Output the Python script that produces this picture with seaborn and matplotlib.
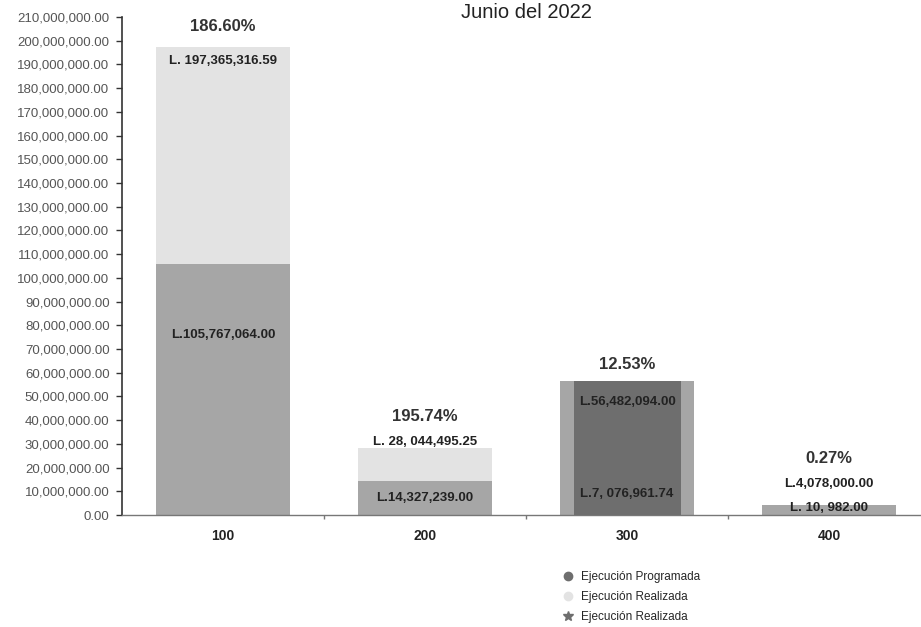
import matplotlib
matplotlib.use("Agg")
import matplotlib.pyplot as plt
import seaborn as sns
import numpy as np
import pandas as pd
from matplotlib.lines import Line2D
from matplotlib.ticker import FuncFormatter, MultipleLocator

# ---- data ----
categories = ["100", "200", "300", "400"]
programada = [105767064.00, 14327239.00, 56482094.00, 4078000.00]
realizada = [197365316.59, 28044495.25, 7076961.74, 10982.00]
realizada_2 = [0.0, 0.0, 56482094.00, 0.0]
porcentajes = ["186.60%", "195.74%", "12.53%", "0.27%"]
etiq_realizada = ["L. 197,365,316.59", "L. 28, 044,495.25", "L.7, 076,961.74", "L. 10, 982.00"]
etiq_programada = ["L.105,767,064.00", "L.14,327,239.00", "L.56,482,094.00", "L.4,078,000.00"]
titulo = "Junio del 2022"
leyenda = ["Ejecución Programada", "Ejecución Realizada", "Ejecución Realizada"]

sns.set_theme(style="white")
plt.rcParams["font.family"] = ["Liberation Sans", "DejaVu Sans"]

c_light = "#e3e3e3"
c_mid = "#a6a6a6"
c_dark = "#6e6e6e"

fig = plt.figure(figsize=(9.21, 6.27), dpi=100)
ax = fig.add_axes([122 / 921, 1 - 515 / 627, 1 - 122 / 921, (515 - 17) / 627])

df = pd.DataFrame({"cat": categories, "prog": programada, "real": realizada, "real2": realizada_2})
sns.barplot(data=df, x="cat", y="real", order=categories, color=c_light, width=0.665,
            errorbar=None, saturation=1, ax=ax, zorder=1, linewidth=0)
sns.barplot(data=df, x="cat", y="prog", order=categories, color=c_mid, width=0.665,
            errorbar=None, saturation=1, ax=ax, zorder=2, linewidth=0)
sns.barplot(data=df, x="cat", y="real2", order=categories, color=c_dark, width=0.53,
            errorbar=None, saturation=1, ax=ax, zorder=3, linewidth=0)

ax.set_xlim(-0.5, 3.455)
ax.set_ylim(0, 210_000_000)
ax.yaxis.set_major_locator(MultipleLocator(10_000_000))
ax.yaxis.set_major_formatter(FuncFormatter(lambda v, p: f"{v:,.2f}"))
ax.set_xlabel("")
ax.set_ylabel("")

for s in ["top", "right"]:
    ax.spines[s].set_visible(False)
ax.spines["left"].set_color("#333333")
ax.spines["left"].set_linewidth(1.2)
ax.spines["bottom"].set_color("#777777")
ax.spines["bottom"].set_linestyle((0, (1, 1)))
ax.spines["bottom"].set_linewidth(1.0)

ax.tick_params(axis="y", left=True, length=4, width=1, color="#333333",
               labelsize=9.5, labelcolor="#555555", pad=5)
ax.tick_params(axis="x", bottom=False, labelsize=10, pad=4, labelcolor="#222222")
for t in ax.get_xticklabels():
    t.set_fontweight("bold")
ax.set_xticks([0.5, 1.5, 2.5], minor=True)
ax.tick_params(axis="x", which="minor", bottom=True, length=3, color="#777777")

# ---- annotations (offsets in points from bar tops) ----
tops = [max(a, b, c) for a, b, c in zip(programada, realizada, realizada_2)]
pct_off = [15, 23, 12, 34]
for i, (t, lab) in enumerate(zip(tops, porcentajes)):
    ax.annotate(lab, xy=(i, t), xytext=(0, pct_off[i]), textcoords="offset points",
                ha="center", va="center", fontsize=12, fontweight="bold", color="#333333")

# realizada labels
real_pos = [(0, realizada[0], -10), (1, realizada[1], 5), (2, 0, 15), (3, 0, 5)]
for (i, y, dy), lab in zip(real_pos, etiq_realizada):
    ax.annotate(lab, xy=(i, y), xytext=(0, dy), textcoords="offset points",
                ha="center", va="center", fontsize=9.5, fontweight="bold", color="#222222", zorder=5)

# programada labels
prog_pos = [(0, programada[0], -51), (1, 0, 12), (2, programada[2], -15), (3, programada[3], 15)]
for (i, y, dy), lab in zip(prog_pos, etiq_programada):
    ax.annotate(lab, xy=(i, y), xytext=(0, dy), textcoords="offset points",
                ha="center", va="center", fontsize=9.5, fontweight="bold", color="#222222", zorder=5)

fig.text(526 / 921, 1 - 12 / 627, titulo, ha="center", va="center", fontsize=14.5, color="#222222")

handles = [
    Line2D([0], [0], marker="o", linestyle="", markersize=6, markerfacecolor=c_dark, markeredgecolor=c_dark),
    Line2D([0], [0], marker="o", linestyle="", markersize=6, markerfacecolor=c_light, markeredgecolor=c_light),
    Line2D([0], [0], marker="*", linestyle="", markersize=7, markerfacecolor=c_dark, markeredgecolor=c_dark),
]
fig.legend(handles, leyenda, loc="center left", bbox_to_anchor=(555 / 921, 1 - 597 / 627),
           frameon=False, fontsize=8.5, handletextpad=0.5, labelspacing=0.7, borderpad=0,
           handlelength=1.2)

fig.savefig("out.png", dpi=100)
